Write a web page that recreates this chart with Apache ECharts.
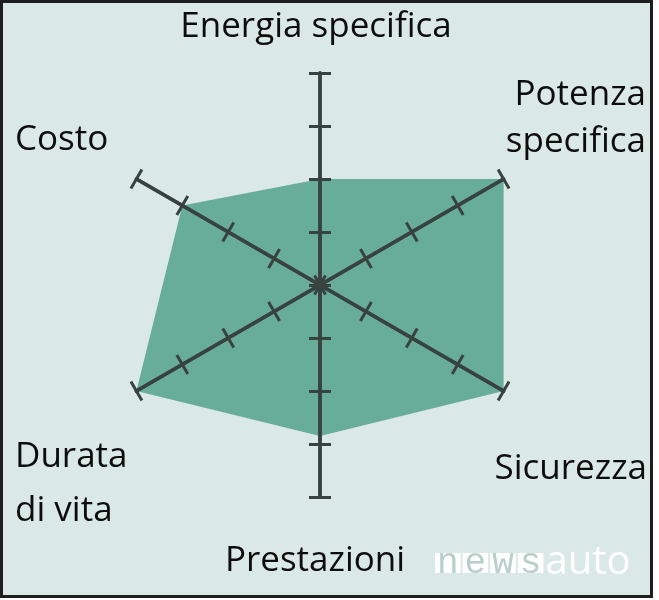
<!DOCTYPE html>
<html>
<head>
<meta charset="utf-8">
<script src="https://cdn.jsdelivr.net/npm/echarts@6/dist/echarts.min.js"></script>
<style>
  html, body { margin: 0; padding: 0; background: #fff; }
  #main { width: 659px; height: 600px; }
</style>
</head>
<body>
<div id="main"></div>
<script>
// assi del radar (in senso antiorario partendo dall'alto)
let indicatorNames = ['Energia specifica', 'Costo', 'Durata\ndi vita', 'Prestazioni', 'Sicurezza', 'Potenza\nspecifica'];
let indicatorMax = [4, 4, 4, 4, 4, 4];
let batteryValues = [2, 3, 4, 2.85, 4, 4];
let watermarkParts = ['n', 'e', 'w', 's', 'auto'];

let myChart = echarts.init(document.getElementById('main'));

let axisColor = '#38433f';
let indicators = indicatorNames.map((n, i) => ({ name: n, min: 0, max: indicatorMax[i] }));

// posizione etichette: [x, y, align, lineHeight]
let labelPos = [
    [316, 27, 'center', 35],
    [15, 140, 'left', 35],
    [15, 484, 'left', 54],
    [315, 561, 'center', 35],
    [647, 469, 'right', 35],
    [646, 119, 'right', 47]
];

function radarBase(tickLen) {
    return {
        indicator: indicators,
        center: [320, 285],
        radius: 212,
        startAngle: 90,
        splitNumber: 4,
        z: 5,
        axisName: { show: false },
        splitLine: { show: false },
        splitArea: { show: false },
        axisLabel: { show: false },
        axisLine: { lineStyle: { color: axisColor, width: 3.5 } },
        axisTick: { show: true, length: tickLen, lineStyle: { color: axisColor, width: 3 } }
    };
}

let labels = indicatorNames.map((n, i) => ({
    type: 'text',
    z: 10,
    x: labelPos[i][0],
    y: labelPos[i][1],
    style: {
        text: n,
        fill: '#0d0d0d',
        font: '35px "Open Sans"',
        textAlign: labelPos[i][2],
        textVerticalAlign: 'middle',
        lineHeight: labelPos[i][3]
    }
}));

// logo in basso a destra
let wmRich = {
    b: { backgroundColor: '#ffffff', fill: '#b9cfc9', fontFamily: 'Liberation Mono', fontSize: 36, padding: [0, 2], lineHeight: 20, height: 20 },
    g: { width: 2 },
    a: { fill: '#ffffff', fontFamily: 'Open Sans', fontSize: 40, padding: [0, 0, 0, 2] }
};
let wmText = watermarkParts.slice(0, 4).map(c => '{b|' + c + '}').join('{g|}') + '{a|' + watermarkParts[4] + '}';

let option = {
    backgroundColor: '#ffffff',
    animation: false,
    graphic: [{
        type: 'rect',
        z: 0,
        shape: { x: 1.5, y: 1.5, width: 650, height: 595 },
        style: { fill: '#dae9e5', stroke: '#1e1e1e', lineWidth: 3 }
    }].concat(labels).concat([{
        type: 'text',
        z: 10,
        x: 435,
        y: 563,
        style: { text: wmText, rich: wmRich, textVerticalAlign: 'middle' }
    }]),
    radar: [radarBase(11), radarBase(-11)],
    series: [{
        type: 'radar',
        radarIndex: 0,
        z: 3,
        silent: true,
        symbol: 'none',
        lineStyle: { width: 0, opacity: 0 },
        areaStyle: { color: '#68ad9a', opacity: 1 },
        data: [{ value: batteryValues, name: 'batteria' }]
    }]
};

myChart.setOption(option);
</script>
</body>
</html>
